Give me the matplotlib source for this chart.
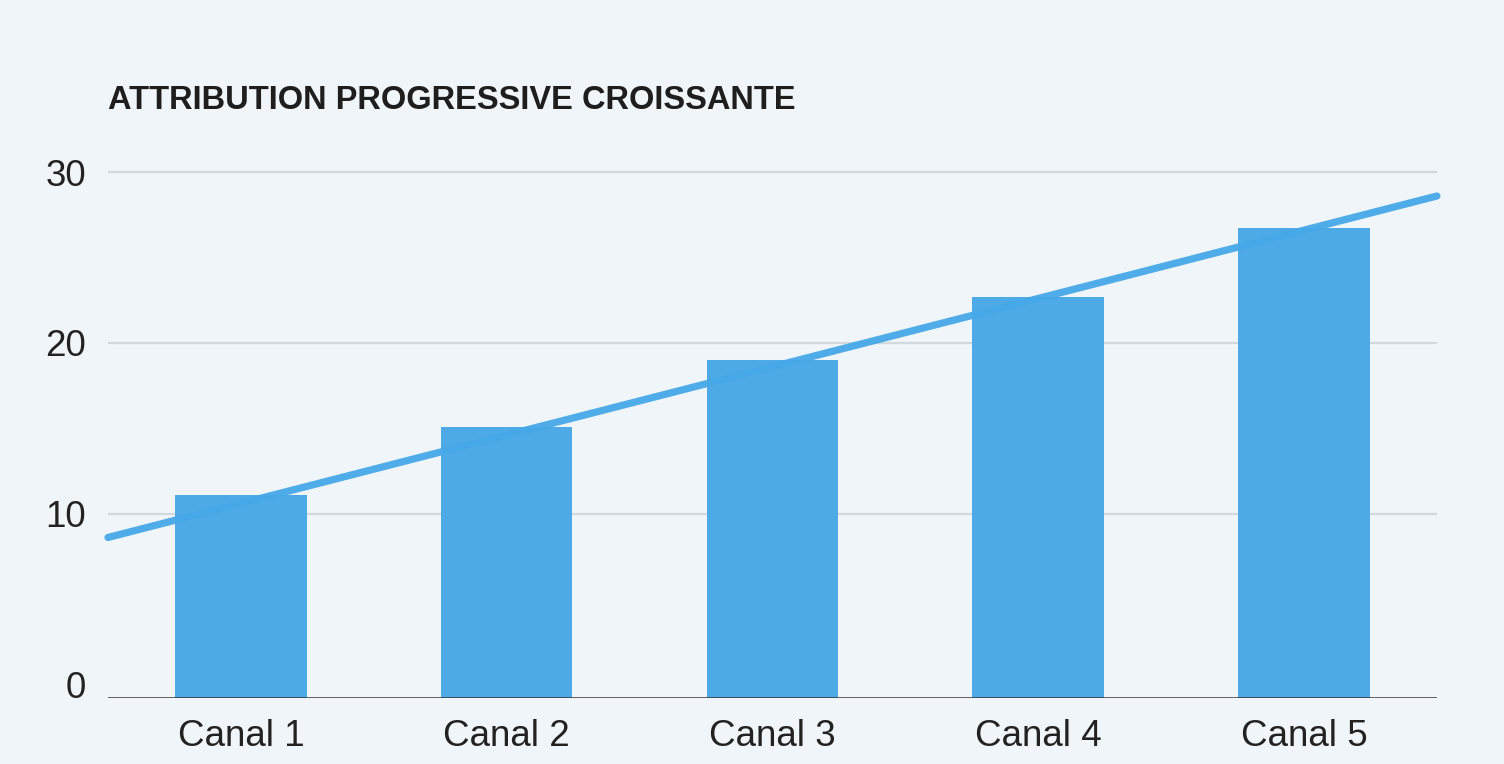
import numpy as np
import matplotlib.pyplot as plt

# data
categories = ["Canal 1", "Canal 2", "Canal 3", "Canal 4", "Canal 5"]
values = [11.1, 15.1, 19.0, 22.7, 26.7]
trend_x = [-0.5, 4.5]
trend_y = [8.6, 28.6]
y_ticks = [0, 10, 20, 30]
title = "ATTRIBUTION PROGRESSIVE CROISSANTE"

BG = "#eff5f8"
BLUE = "#4eaae6"
BASE = -0.8  # baseline sits a bit under the 0 label

fig = plt.figure(figsize=(15.04, 7.64), dpi=100, facecolor=BG)
ax = fig.add_axes([0.0718, 0.0864, 0.8836, 0.7107])
ax.set_facecolor(BG)

x = np.arange(len(categories))
ax.bar(x, np.array(values) - BASE, bottom=BASE, width=0.495, color=BLUE, zorder=2)
ax.plot(trend_x, trend_y, color="#46a8e8", lw=5.2, solid_capstyle="round",
        alpha=0.95, zorder=3, clip_on=False)

ax.set_xlim(-0.5, 4.5)
ax.set_ylim(BASE, 31)
ax.set_yticks(y_ticks)
ax.set_xticks(x)
ax.set_xticklabels(categories)
# grid lines only above zero, dark baseline at the bottom
for t in y_ticks[1:]:
    ax.axhline(t, color="#d3d8dc", lw=1.6, zorder=1)
ax.axhline(BASE, color="#333333", lw=1.8, zorder=4)

for s in ax.spines.values():
    s.set_visible(False)
ax.tick_params(length=0, labelsize=26.5, colors="#222222")
ax.tick_params(axis="y", pad=16)
ax.tick_params(axis="x", pad=15)
for lab in ax.get_xticklabels() + ax.get_yticklabels():
    lab.set_family("Liberation Sans")

fig.text(0.0718, 0.869, title, ha="left", va="center", fontsize=23.5,
         fontweight="bold", family="Liberation Sans", color="#1e1e1e")

fig.savefig("out.png", dpi=100, facecolor=BG)
